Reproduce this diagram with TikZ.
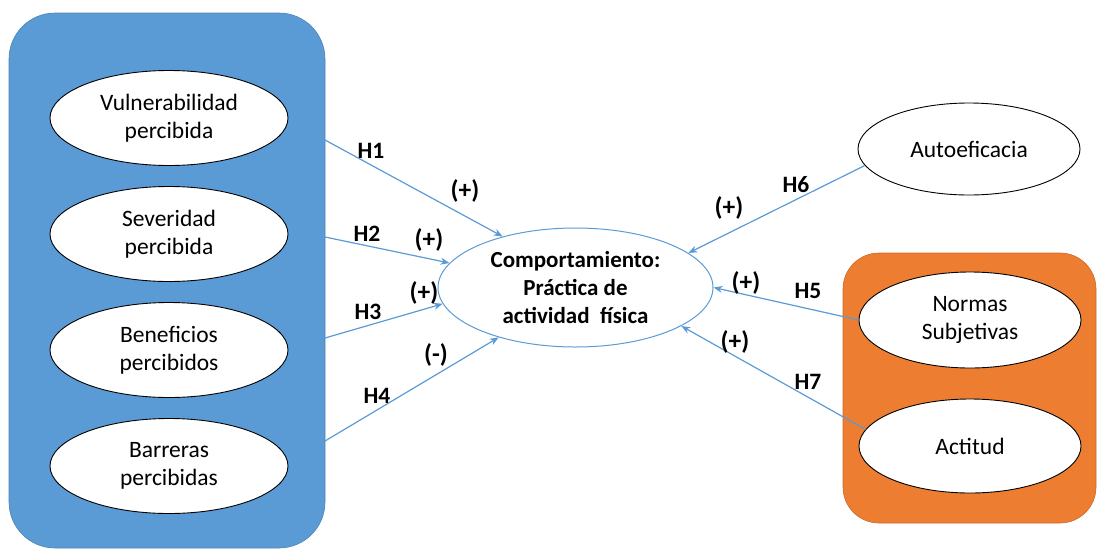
\documentclass[tikz,border=0pt]{standalone}
\usepackage{fontspec}
\setmainfont{Carlito}
\usetikzlibrary{shapes.geometric,arrows.meta}
\definecolor{groupblue}{HTML}{5B9BD5}
\definecolor{grouporange}{HTML}{ED7D31}
\definecolor{linkblue}{HTML}{5B9BD5}
\begin{document}
\begin{tikzpicture}[x=1pt,y=-1pt,
  groupbox/.style={draw=#1!85!black, fill=#1, line width=0.6pt, inner sep=0pt},
  factor/.style={ellipse, draw=black, fill=white, line width=0.9pt, inner sep=0pt,
    minimum width=238pt, minimum height=95pt, align=center,
    font=\fontsize{23.5}{28}\selectfont},
  outcome/.style={ellipse, draw=linkblue, fill=white, line width=1pt, inner sep=0pt,
    minimum width=275pt, minimum height=119pt, align=center,
    font=\bfseries\fontsize{23}{28}\selectfont},
  link/.style={draw=linkblue, line width=1.2pt, -{Stealth[length=9pt,width=7pt]}},
  hyp/.style={font=\bfseries\fontsize{23.5}{26}\selectfont, inner sep=0pt},
  sign/.style={font=\bfseries\fontsize{25.5}{28}\selectfont, inner sep=0pt}
]
\useasboundingbox (0,0) rectangle (1097,549);

% grouping panels
\node[groupbox=groupblue, rounded corners=46pt, minimum width=316pt, minimum height=535pt]
  (lbox) at (167,280.5) {};
\node[groupbox=grouporange, rounded corners=36pt, minimum width=253pt, minimum height=270pt]
  (rbox) at (969.5,388) {};

% constructs
\node[factor] (vul) at (169,118) {Vulnerabilidad\\percibida};
\node[factor] (sev) at (169,234) {Severidad\\percibida};
\node[factor] (ben) at (169,350) {Beneficios\\percibidos};
\node[factor] (bar) at (169,466) {Barreras\\percibidas};
\node[factor, minimum width=222pt, minimum height=92pt] (aut) at (969,149) {Autoeficacia};
\node[factor, minimum width=222pt, minimum height=96pt] (nor) at (970,320) {Normas\\Subjetivas};
\node[factor, minimum width=222pt, minimum height=94pt] (act) at (970,446) {Actitud};
\node[outcome] (beh) at (575.5,287.5) {Comportamiento:\\Práctica de\\actividad\ \ física};

% connector starts on the panel edge
\coordinate (s1) at (325,140);
\coordinate (s2) at (325,237);
\coordinate (s3) at (325,338);
\coordinate (s4) at (325,441);

\draw[link] (s1) -- (beh.145);
\draw[link] (s2) -- (beh.169);
\draw[link] (s3) -- (beh.187);
\draw[link] (s4) -- (beh.213);
\draw[link] (aut.189) -- (beh.17.5);
\draw[link] (nor.180) -- (beh.0);
\draw[link] (act.171) -- (beh.-20);

% hypothesis labels
\node[hyp] (h1) at (371,151) {H1};
\node[sign] (p1) at (465,191) {(+)};
\node[hyp] (h2) at (367,234) {H2};
\node[sign] (p2) at (429,240) {(+)};
\node[sign] (p3) at (424,293) {(+)};
\node[hyp] (h3) at (368,312) {H3};
\node[sign] (p4) at (436,355) {(-)};
\node[hyp] (h4) at (377,396) {H4};
\node[hyp] (h6) at (796,185) {H6};
\node[sign] (p6) at (729,208) {(+)};
\node[sign] (p5) at (746,283) {(+)};
\node[hyp] (h5) at (808,291) {H5};
\node[sign] (p7) at (735,342) {(+)};
\node[hyp] (h7) at (808,382) {H7};
\end{tikzpicture}
\end{document}
